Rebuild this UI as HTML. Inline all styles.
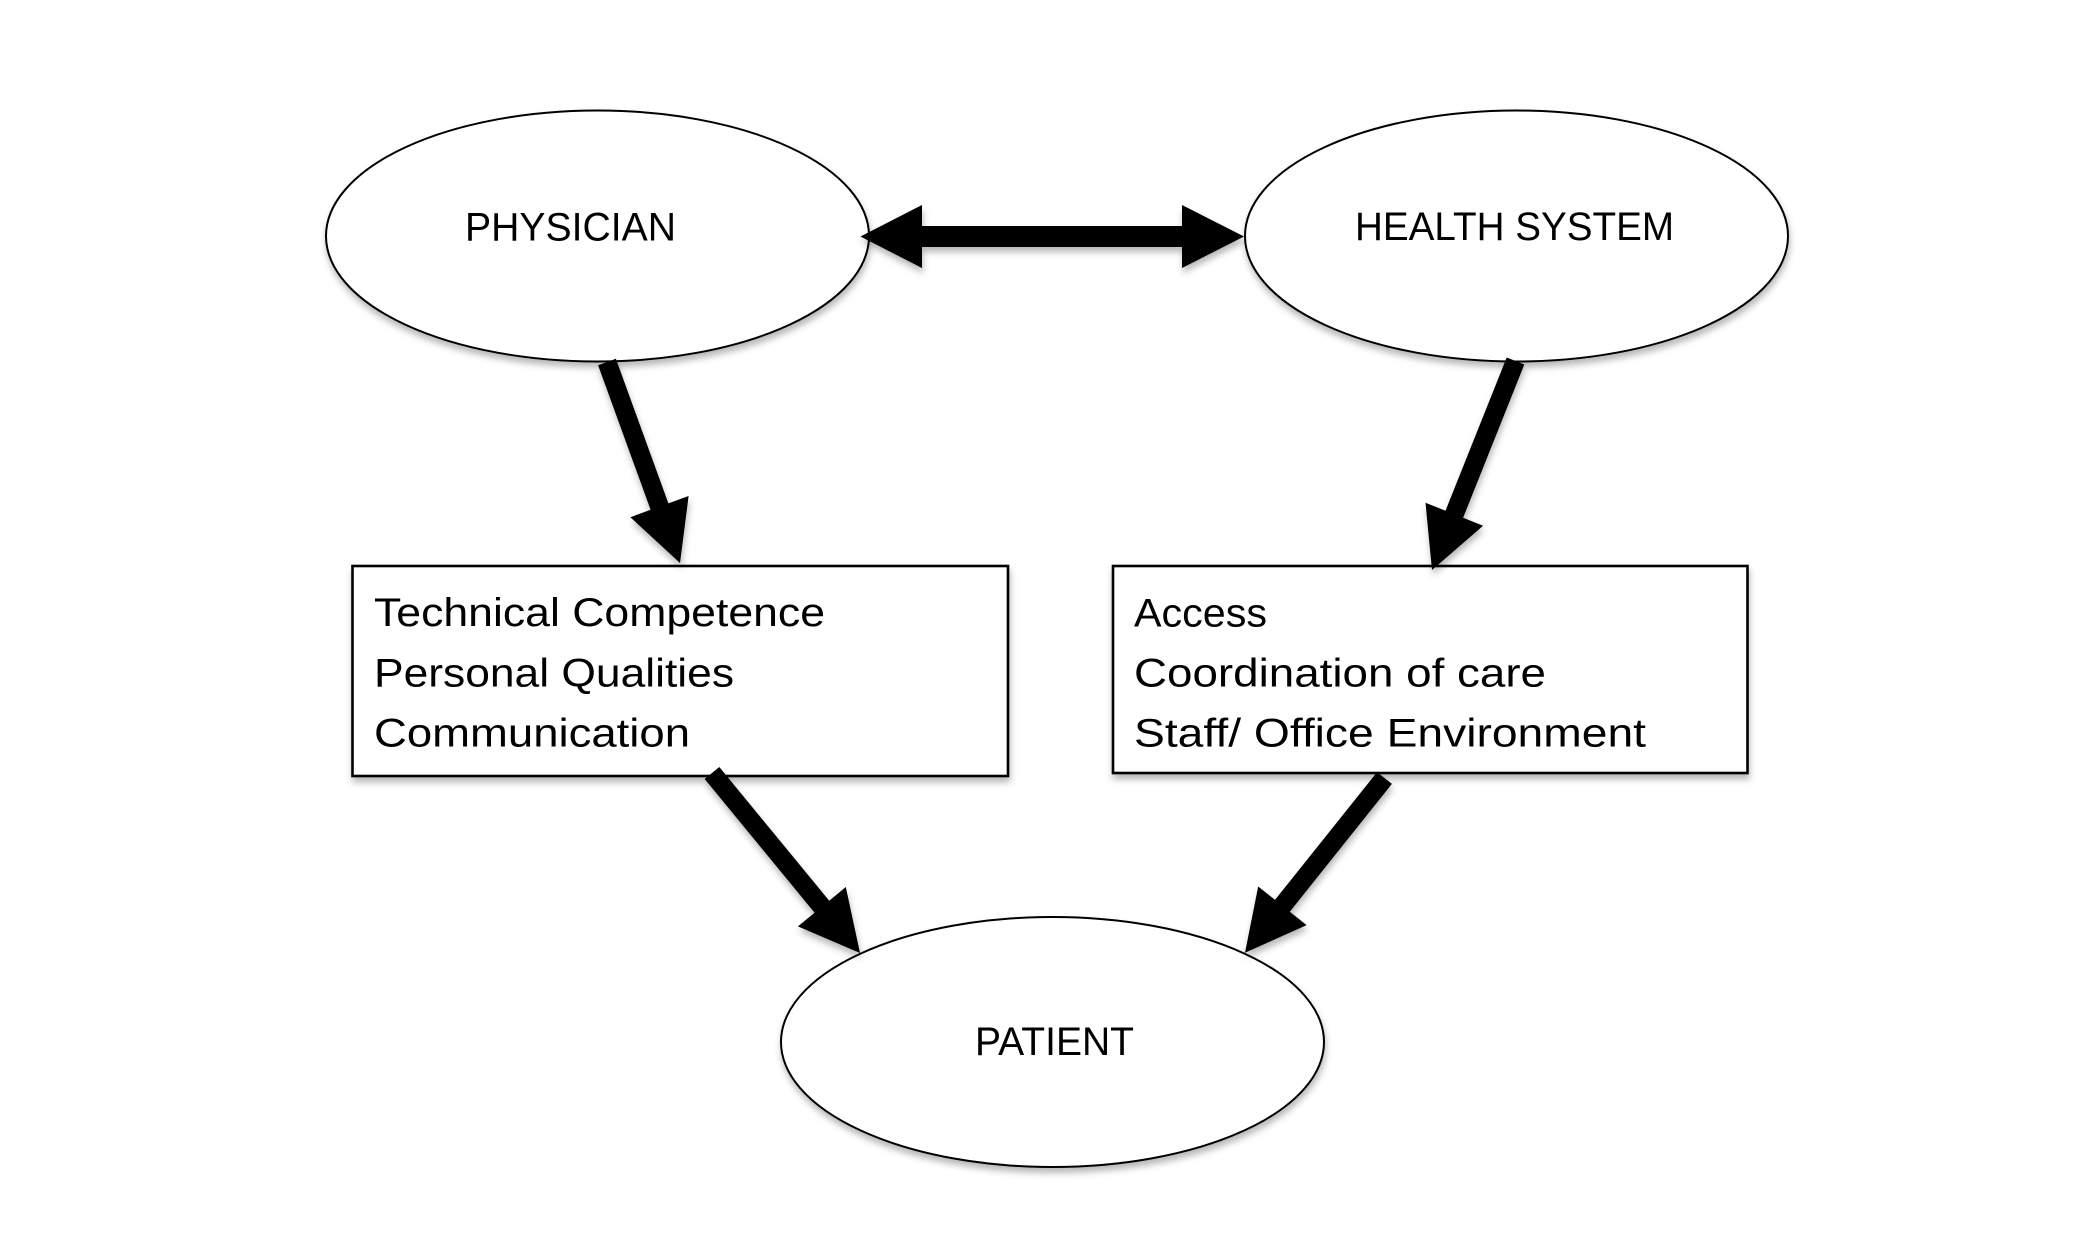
<!DOCTYPE html>
<html>
<head>
<meta charset="utf-8">
<style>
  html, body { margin: 0; padding: 0; background: #ffffff; }
  body { width: 2093px; height: 1257px; overflow: hidden; }
  svg { display: block; }
  text { font-family: "Liberation Sans", "DejaVu Sans", sans-serif; font-size: 40px; fill: #000; }
</style>
</head>
<body>
<svg width="2093" height="1257" viewBox="0 0 2093 1257" xmlns="http://www.w3.org/2000/svg">
  <defs>
    <filter id="sh" x="-20%" y="-20%" width="140%" height="150%">
      <feDropShadow dx="1" dy="5" stdDeviation="3.5" flood-color="#000" flood-opacity="0.28"/>
    </filter>
  </defs>
  <rect width="2093" height="1257" fill="#ffffff"/>

  <!-- Ellipses -->
  <ellipse cx="597.5" cy="236" rx="271.5" ry="125.5" fill="#fff" stroke="#000" stroke-width="2" filter="url(#sh)"/>
  <ellipse cx="1516.5" cy="236" rx="271.5" ry="125.5" fill="#fff" stroke="#000" stroke-width="2" filter="url(#sh)"/>
  <ellipse cx="1052.5" cy="1042" rx="271.5" ry="125" fill="#fff" stroke="#000" stroke-width="2" filter="url(#sh)"/>

  <!-- Boxes -->
  <rect x="352.5" y="566" width="655.5" height="210" fill="#fff" stroke="#000" stroke-width="2.6" filter="url(#sh)"/>
  <rect x="1113" y="566" width="634.5" height="207" fill="#fff" stroke="#000" stroke-width="2.6" filter="url(#sh)"/>

  <!-- Arrows -->
  <g fill="#000" filter="url(#sh)">
    <polygon points="860.5,236.5 922,205 922,226 1182,226 1182,205 1244,236.5 1182,268 1182,247 922,247 922,268"/>
    <polygon points="598.1,365.2 650.6,509.8 630.4,517.2 680,563 688.6,496.0 668.4,503.4 615.9,358.8"/>
    <polygon points="1506.7,357.5 1445.5,510.8 1425.5,502.8 1432,570 1483.1,525.8 1463.1,517.8 1524.3,364.5"/>
    <polygon points="704.7,779.0 814.6,912.7 797.9,926.4 860,953 845.8,887.0 829.2,900.7 719.3,767.0"/>
    <polygon points="1377.1,772.1 1275.0,899.9 1258.2,886.5 1245,952.7 1306.6,925.1 1289.8,911.7 1391.9,783.9"/>
  </g>

  <!-- Labels -->
  <text x="465" y="240.5" textLength="211" lengthAdjust="spacingAndGlyphs">PHYSICIAN</text>
  <text x="1355" y="240" textLength="319" lengthAdjust="spacingAndGlyphs">HEALTH SYSTEM</text>
  <text x="975" y="1055" textLength="159" lengthAdjust="spacingAndGlyphs">PATIENT</text>

  <text x="374" y="626" textLength="451" lengthAdjust="spacingAndGlyphs">Technical Competence</text>
  <text x="374" y="686.5" textLength="360" lengthAdjust="spacingAndGlyphs">Personal Qualities</text>
  <text x="374" y="746.5" textLength="316" lengthAdjust="spacingAndGlyphs">Communication</text>

  <text x="1134" y="626.5" textLength="133" lengthAdjust="spacingAndGlyphs">Access</text>
  <text x="1134" y="686.5" textLength="412" lengthAdjust="spacingAndGlyphs">Coordination of care</text>
  <text x="1134" y="746.5" textLength="512" lengthAdjust="spacingAndGlyphs">Staff/ Office Environment</text>
</svg>
</body>
</html>
